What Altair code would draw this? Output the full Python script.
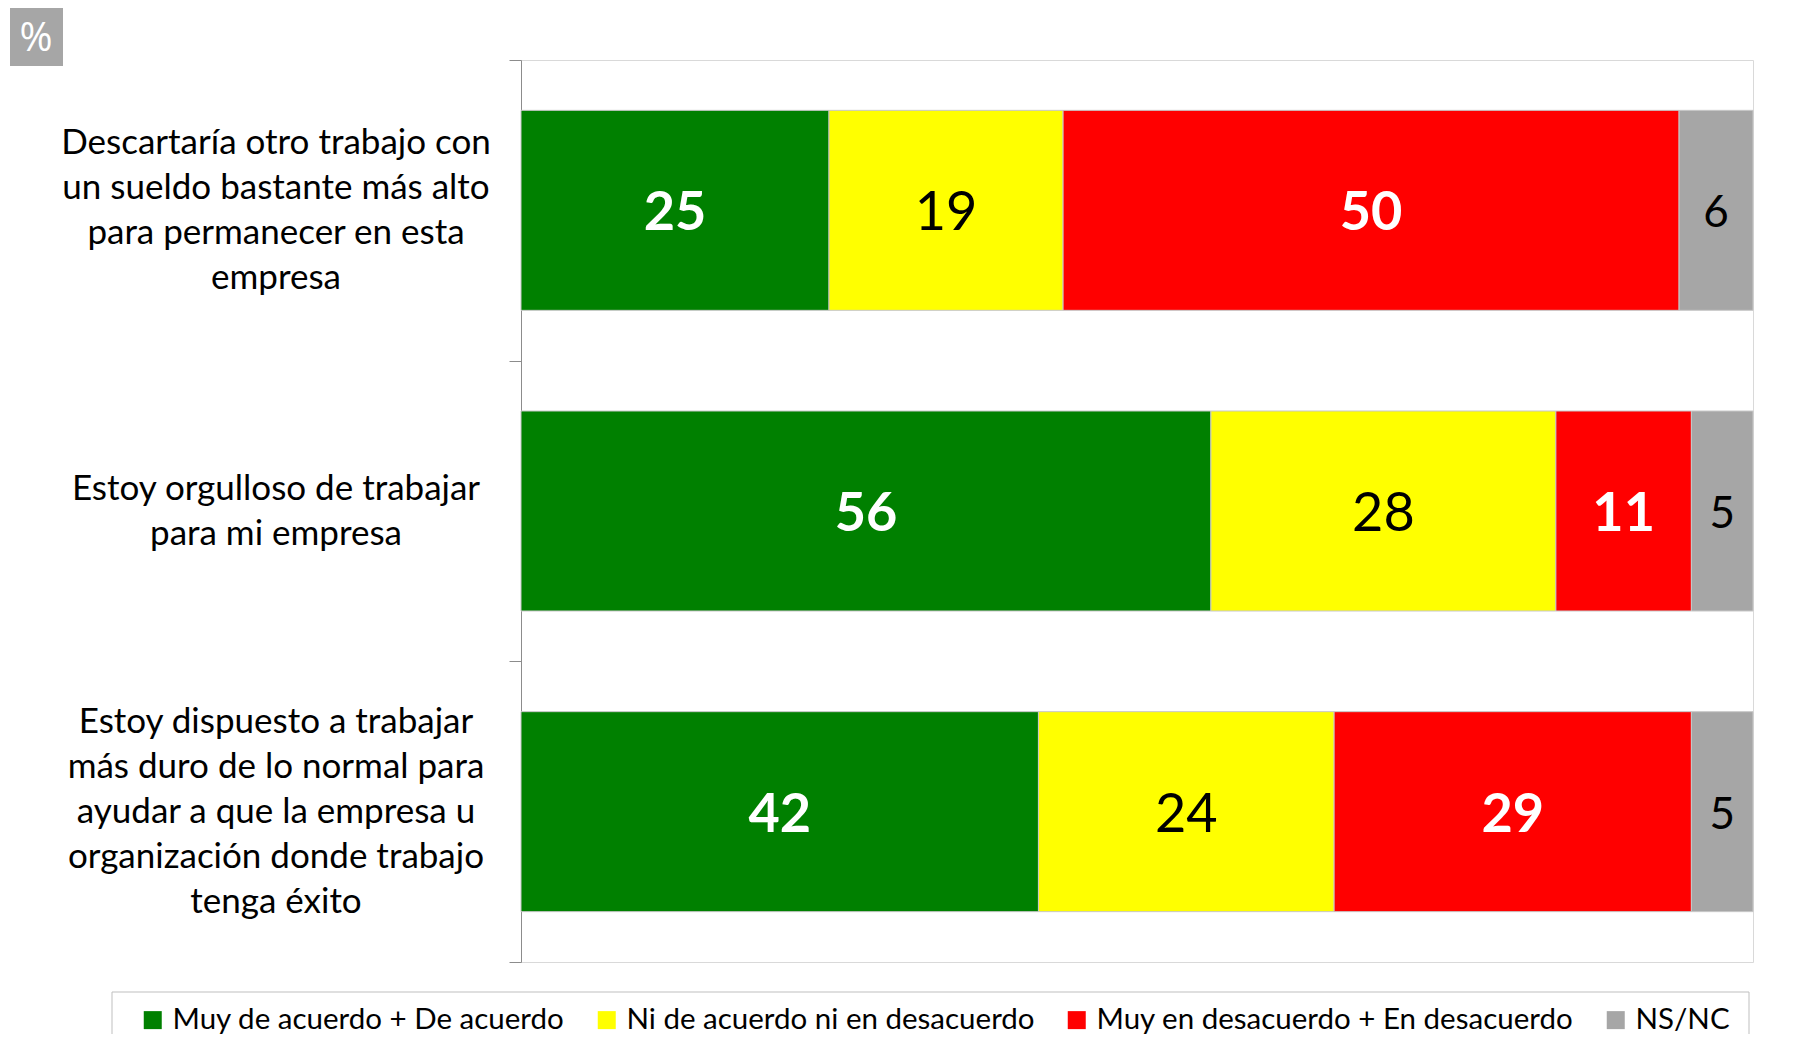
import altair as alt
import pandas as pd

categories = [
    "Descartaría otro trabajo con\nun sueldo bastante más alto\npara permanecer en esta\nempresa",
    "Estoy orgulloso de trabajar\npara mi empresa",
    "Estoy dispuesto a trabajar\nmás duro de lo normal para\nayudar a que la empresa u\norganización donde trabajo\ntenga éxito",
]
responses = [
    "Muy de acuerdo + De acuerdo",
    "Ni de acuerdo ni en desacuerdo",
    "Muy en desacuerdo + En desacuerdo",
    "NS/NC",
]
colors = ["#008000", "#FFFF00", "#FF0000", "#A6A6A6"]
agree = [25, 56, 42]
neutral = [19, 28, 24]
disagree = [50, 11, 29]
nsnc = [6, 5, 5]

series = [agree, neutral, disagree, nsnc]
rows = []
for ci, cat in enumerate(categories):
    for ri, resp in enumerate(responses):
        rows.append({"category": cat, "response": resp, "order": ri, "value": series[ri][ci]})
df = pd.DataFrame(rows)

FONT = "Lato"
LINE_H = 45
W, H = 1232, 902

base = alt.Chart(df).transform_stack(
    stack="value", groupby=["category"], sort=[alt.SortField("order")], as_=["x0", "x1"]
).transform_calculate(mid="(datum.x0 + datum.x1) / 2")

xscale = alt.Scale(domain=[0, 100], nice=False, zero=True)

yaxis = alt.Axis(
    title=None,
    labels=False,
    tickBand="extent",
    tickSize=12,
    tickColor="#8c8c8c",
    domainColor="#8c8c8c",
    grid=False,
)
yscale = alt.Scale(paddingInner=0, paddingOuter=0)
ycat = alt.Y("category:N", sort=categories, title=None, scale=yscale, axis=yaxis)

bars = base.mark_bar(size=200, stroke="#c8c8c8", strokeWidth=1).encode(
    x=alt.X("x0:Q", scale=xscale, axis=None),
    x2="x1:Q",
    y=ycat,
    color=alt.Color(
        "response:N",
        sort=responses,
        title=None,
        scale=alt.Scale(domain=responses, range=colors),
        legend=alt.Legend(
            orient="none",
            legendX=-383,
            legendY=945,
            direction="horizontal",
            symbolType="square",
            symbolSize=324,
            symbolStrokeWidth=0,
            labelFont=FONT,
            labelFontSize=29.5,
            labelColor="black",
            columnPadding=27,
            labelOffset=5,
            padding=0,
            labelLimit=1000,
        ),
    ),
)

def value_text(names, size, weight, color):
    return base.transform_filter(
        alt.FieldOneOfPredicate(field="response", oneOf=names)
    ).mark_text(
        font=FONT, fontSize=size, fontWeight=weight, color=color,
        align="center", baseline="middle", dy=4,
    ).encode(
        x=alt.X("mid:Q", scale=xscale, axis=None),
        y=alt.Y("category:N", sort=categories),
        text=alt.Text("value:Q"),
    )

txt_white = value_text([responses[0], responses[2]], 54, "bold", "white")
txt_yellow = value_text([responses[1]], 54, "normal", "black")
txt_gray = value_text([responses[3]], 44, "normal", "black")

half_step = H / len(categories) / 2
cat_labels = alt.Chart(pd.DataFrame({"category": categories})).transform_calculate(
    lines="split(datum.category, '\\n')",
    off=f"{half_step} - (length(split(datum.category, '\\n')) - 1) * {LINE_H} / 2",
).mark_text(
    font=FONT, fontSize=35, lineHeight=LINE_H, align="center", baseline="middle", color="black"
).encode(
    x=alt.value(-245),
    y=alt.Y("category:N", sort=categories),
    yOffset=alt.YOffset("off:Q", scale=None),
    text=alt.Text("lines:N"),
)

deco = alt.Chart(pd.DataFrame({"d": [0]}))
pct_box = deco.mark_rect(color="#A6A6A6").encode(
    x=alt.value(-511), x2=alt.value(-458), y=alt.value(-52), y2=alt.value(6)
)
pct_text = deco.mark_text(font="Open Sans", fontSize=40, color="white",
                          align="center", baseline="middle").encode(
    x=alt.value(-485), y=alt.value(-21), text=alt.value("%")
)
legend_box = deco.mark_rect(fill="white", stroke="#bfbfbf", strokeWidth=1).encode(
    x=alt.value(-409), x2=alt.value(1228), y=alt.value(932), y2=alt.value(1020)
)

chart = alt.layer(
    legend_box, bars, txt_white, txt_yellow, txt_gray, cat_labels, pct_box, pct_text
).properties(
    width=W,
    height=H,
    padding={"left": 513, "top": 52, "right": 40, "bottom": 72},
    autosize=alt.AutoSizeParams(type="none"),
    background="white",
).configure_view(stroke="#d9d9d9", strokeWidth=1)

chart.save("out.html", embed_options={"renderer": "svg", "actions": False})
